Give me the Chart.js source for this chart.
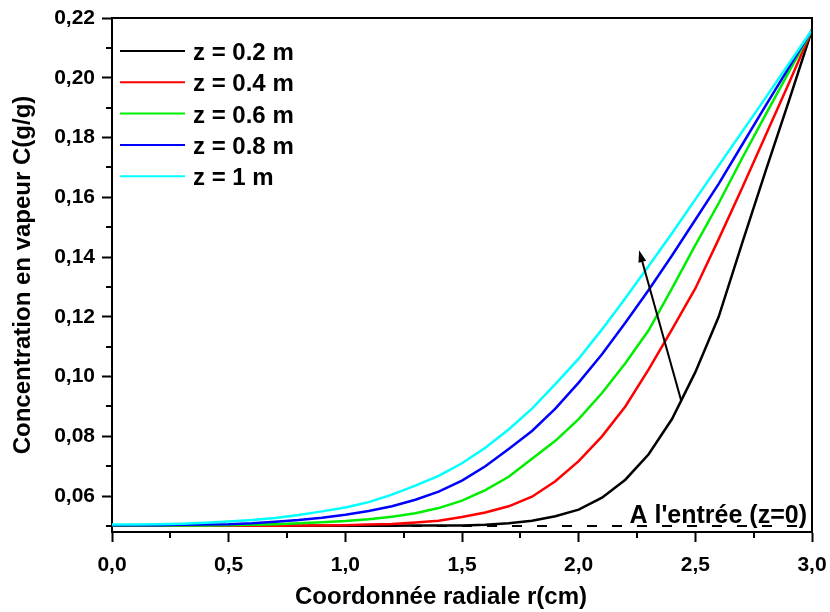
<!DOCTYPE html>
<html><head><meta charset="utf-8">
<script src="https://cdn.jsdelivr.net/npm/chart.js@4.4.1/dist/chart.umd.min.js"></script>
<style>html,body{margin:0;padding:0;background:#fff}#wrap{width:830px;height:612px}</style>
</head><body><div id="wrap"><canvas id="c" width="830" height="612"></canvas></div>
<script>
// ---- data ----
const r = [0.0,0.1,0.2,0.3,0.4,0.5,0.6,0.7,0.8,0.9,1.0,1.1,1.2,1.3,1.4,1.5,1.6,1.7,1.8,1.9,2.0,2.1,2.2,2.3,2.4,2.5,2.6,2.7,2.8,2.9,3.0];
const C_z02 = [0.0501,0.0501,0.0501,0.0501,0.0501,0.0501,0.0501,0.0501,0.0501,0.0501,0.0501,0.0501,0.0501,0.0502,0.0502,0.0502,0.0504,0.0509,0.0518,0.0533,0.0555,0.0595,0.0655,0.0740,0.0858,0.1015,0.1200,0.1445,0.1685,0.1920,0.2160];
const C_z04 = [0.0501,0.0501,0.0501,0.0501,0.0501,0.0501,0.0501,0.0501,0.0502,0.0502,0.0503,0.0505,0.0507,0.0512,0.0518,0.0530,0.0545,0.0566,0.0598,0.0650,0.0717,0.0800,0.0900,0.1024,0.1158,0.1295,0.1460,0.1630,0.1805,0.1980,0.2160];
const C_z06 = [0.0502,0.0502,0.0502,0.0502,0.0502,0.0503,0.0504,0.0506,0.0509,0.0513,0.0517,0.0523,0.0531,0.0543,0.0560,0.0585,0.0620,0.0665,0.0725,0.0785,0.0858,0.0945,0.1045,0.1155,0.1295,0.1440,0.1580,0.1730,0.1875,0.2018,0.2160];
const C_z08 = [0.0503,0.0503,0.0503,0.0504,0.0505,0.0506,0.0509,0.0514,0.0520,0.0528,0.0538,0.0550,0.0566,0.0588,0.0615,0.0652,0.0700,0.0758,0.0818,0.0893,0.0980,0.1075,0.1180,0.1290,0.1405,0.1525,0.1645,0.1775,0.1905,0.2033,0.2160];
const C_z10 = [0.0505,0.0505,0.0506,0.0508,0.0511,0.0515,0.0520,0.0527,0.0537,0.0549,0.0562,0.0580,0.0605,0.0635,0.0668,0.0710,0.0762,0.0823,0.0893,0.0975,0.1060,0.1158,0.1262,0.1370,0.1480,0.1593,0.1706,0.1819,0.1932,0.2046,0.2160];
const C_inlet = 0.05;
const seriesLabels = ['z = 0.2 m','z = 0.4 m','z = 0.6 m','z = 0.8 m','z = 1 m'];
const seriesColors = ['#000000','#ff0000','#00ee00','#0000ff','#00ffff'];
const xTicks = [0.0,0.5,1.0,1.5,2.0,2.5,3.0];
const xMinor = [0.25,0.75,1.25,1.75,2.25,2.75];
const yTicks = [0.06,0.08,0.10,0.12,0.14,0.16,0.18,0.20,0.22];
const yMinor = [0.05,0.07,0.09,0.11,0.13,0.15,0.17,0.19,0.21];
const arrowTail = {x:2.44, y:0.0918};
const arrowTip = {x:2.259, y:0.1423};
const inletLabel = "A l'entrée (z=0)";
const xTitle = 'Coordonnée radiale r(cm)';
const yTitle = 'Concentration en vapeur C(g/g)';

const FF = "'Liberation Sans', Arial, Helvetica, sans-serif";
const series = [C_z02, C_z04, C_z06, C_z08, C_z10];
const datasets = series.map((arr,k)=>({
  label: seriesLabels[k],
  data: r.map((x,i)=>({x:x, y:arr[i]})),
  borderColor: seriesColors[k],
  backgroundColor: seriesColors[k],
  borderWidth: 2.5, pointRadius: 0, tension: 0, fill: false,
  order: 5-k, inLegend: true
}));
datasets.push({
  label: 'inlet',
  data: [{x:r[0], y:C_inlet},{x:r[r.length-1], y:C_inlet}],
  borderColor:'#000', borderWidth:2, borderDash:[10,15], pointRadius:0, fill:false, order:10, inLegend:false
});

const decor = {
  id:'decor',
  afterDraw(chart){
    const ctx = chart.ctx, a = chart.chartArea;
    const xs = chart.scales.x, ys = chart.scales.y;
    ctx.save();
    ctx.strokeStyle='#000'; ctx.lineWidth=2;
    ctx.beginPath();
    ctx.moveTo(a.left, a.top); ctx.lineTo(a.right, a.top); ctx.lineTo(a.right, a.bottom);
    ctx.stroke();
    ctx.beginPath();
    xMinor.forEach(v=>{const p=Math.round(xs.getPixelForValue(v)); ctx.moveTo(p,a.bottom); ctx.lineTo(p,a.bottom+6);});
    yMinor.forEach(v=>{const p=Math.round(ys.getPixelForValue(v)); ctx.moveTo(a.left,p); ctx.lineTo(a.left-6,p);});
    ctx.stroke();
    ctx.font = 'bold 24px '+FF; ctx.textBaseline='alphabetic'; ctx.textAlign='left';
    let row=0;
    chart.data.datasets.forEach(ds=>{
      if(!ds.inLegend) return;
      const yl = a.top + 33 + row*31.3;
      ctx.strokeStyle=ds.borderColor; ctx.lineWidth=2;
      ctx.beginPath(); ctx.moveTo(a.left+8, yl); ctx.lineTo(a.left+73, yl); ctx.stroke();
      ctx.fillStyle='#000';
      ctx.fillText(ds.label, a.left+81, yl+9);
      row++;
    });
    const tx=xs.getPixelForValue(arrowTail.x), ty=ys.getPixelForValue(arrowTail.y);
    const hx=xs.getPixelForValue(arrowTip.x), hy=ys.getPixelForValue(arrowTip.y);
    const ang=Math.atan2(hy-ty, hx-tx), L=12, W=4;
    ctx.strokeStyle='#000'; ctx.lineWidth=2;
    ctx.beginPath(); ctx.moveTo(tx,ty); ctx.lineTo(hx-Math.cos(ang)*L*0.8, hy-Math.sin(ang)*L*0.8); ctx.stroke();
    ctx.fillStyle='#000';
    ctx.beginPath();
    ctx.moveTo(hx,hy);
    ctx.lineTo(hx-Math.cos(ang)*L-Math.sin(ang)*W, hy-Math.sin(ang)*L+Math.cos(ang)*W);
    ctx.lineTo(hx-Math.cos(ang)*L+Math.sin(ang)*W, hy-Math.sin(ang)*L-Math.cos(ang)*W);
    ctx.closePath(); ctx.fill();
    ctx.font='bold 25px '+FF; ctx.textAlign='right'; ctx.fillStyle='#000';
    ctx.fillText(inletLabel, a.right-5, ys.getPixelForValue(C_inlet)-3);
    ctx.font='bold 24px '+FF; ctx.textAlign='center'; ctx.textBaseline='middle';
    ctx.fillText(xTitle, 441, 597);
    ctx.restore();
  }
};

new Chart(document.getElementById('c'), {
  type:'line',
  data:{datasets},
  options:{
    responsive:false, animation:false, devicePixelRatio:1,
    layout:{padding:{left:0,right:18,top:18,bottom:0}},
    plugins:{legend:{display:false}, tooltip:{enabled:false}},
    scales:{
      x:{
        type:'linear', min:0, max:3,
        afterBuildTicks:s=>{s.ticks = xTicks.map(v=>({value:v}));},
        afterFit:s=>{s.height=80; s.paddingLeft=0; s.paddingRight=0;},
        ticks:{autoSkip:false, maxRotation:0, padding:11, color:'#000',
          font:{family:FF, size:21, weight:'bold'},
          callback:v=>Number(v).toFixed(1).replace('.',',')},
        grid:{drawOnChartArea:false, drawTicks:true, tickLength:10, tickWidth:2, tickColor:'#000', color:'#000'},
        border:{display:true, color:'#000', width:2}
      },
      y:{
        type:'linear', min:0.048, max:0.22,
        afterBuildTicks:s=>{s.ticks = yTicks.map(v=>({value:v}));},
        afterFit:s=>{s.width=112; s.paddingTop=0; s.paddingBottom=0;},
        ticks:{autoSkip:false, padding:7, color:'#000',
          font:{family:FF, size:21, weight:'bold'},
          callback:v=>Number(v).toFixed(2).replace('.',',')},
        grid:{drawOnChartArea:false, drawTicks:true, tickLength:10, tickWidth:2, tickColor:'#000', color:'#000'},
        border:{display:true, color:'#000', width:2},
        title:{display:true, text:yTitle, color:'#000', font:{family:FF, size:24, weight:'bold'}, padding:{top:9,bottom:0}}
      }
    }
  },
  plugins:[decor]
});
</script></body></html>
